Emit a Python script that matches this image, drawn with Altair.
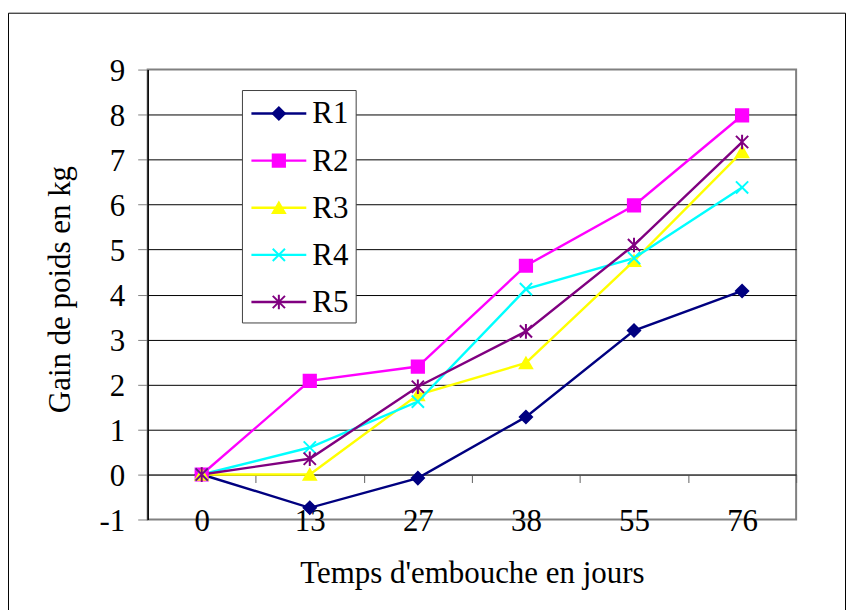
import altair as alt
import pandas as pd

# ---- data ----
days = ["0", "13", "27", "38", "55", "76"]
series = ["R1", "R2", "R3", "R4", "R5"]
r1 = [0, -0.74, -0.08, 1.28, 3.20, 4.08]
r2 = [0, 2.08, 2.40, 4.64, 5.98, 7.98]
r3 = [0, 0.00, 1.77, 2.48, 4.75, 7.17]
r4 = [0, 0.60, 1.62, 4.12, 4.81, 6.38]
r5 = [0, 0.35, 1.95, 3.18, 5.10, 7.39]
y_ticks = [-1, 0, 1, 2, 3, 4, 5, 6, 7, 8, 9]

colors = ["#000080", "#FF00FF", "#FFFF00", "#00FFFF", "#800080"]
shapes = ["diamond", "square", "triangle-up",
          "M-1,-1L1,1M-1,1L1,-1",
          "M-1,-1L1,1M-1,1L1,-1M0,-1.2L0,1.2"]

FONT = "Liberation Serif"
FS = 31

rows = []
for s, vals in zip(series, [r1, r2, r3, r4, r5]):
    for d, v in zip(days, vals):
        rows.append({"jour": d, "serie": s, "gain": v})
df = pd.DataFrame(rows)
leg_df = pd.DataFrame({"serie": series})

color_scale = alt.Scale(domain=series, range=colors)
shape_scale = alt.Scale(domain=series, range=shapes)

x_enc = alt.X(
    "jour:N", sort=days,
    scale=alt.Scale(type="band", paddingInner=0, paddingOuter=0),
    axis=alt.Axis(
        title="Temps d'embouche en jours", labelAngle=0, offset=-45.1,
        tickBand="extent", tickSize=8, tickColor="#606060", tickWidth=1,
        domainColor="#404040", domainWidth=1, grid=False,
        labelFont=FONT, labelFontSize=FS, labelColor="black",
        labelPadding=24, labelBaseline="top",
        titleFont=FONT, titleFontSize=FS, titleFontWeight="normal",
        titleColor="black", titleY=108, titleBaseline="alphabetic",
    ),
)
y_enc = alt.Y(
    "gain:Q",
    scale=alt.Scale(domain=[-1, 9], nice=False, zero=False),
    axis=alt.Axis(
        title="Gain de poids en kg", values=y_ticks,
        labelExpr="datum.value < 0 ? '-' + abs(datum.value) : '' + datum.value",
        tickSize=10, tickColor="#808080", tickWidth=1,
        domainColor="black", domainWidth=1.5,
        labelFont=FONT, labelFontSize=FS, labelColor="black",
        labelPadding=13, labelOffset=2,
        grid=True, gridColor="black", gridWidth=1,
        gridOpacity={"condition": {"test": "datum.value == 9 || datum.value == -1",
                                   "value": 0}, "value": 1},
        titleFont=FONT, titleFontSize=FS, titleFontWeight="normal",
        titleColor="black", titleX=-78, titleY=220, titleAngle=270,
        titleAlign="center", titleBaseline="alphabetic",
    ),
)

base = alt.Chart(df)
lines = base.mark_line(strokeWidth=2.4).encode(
    x=x_enc, y=y_enc,
    color=alt.Color("serie:N", scale=color_scale, legend=None),
)
points = base.mark_point(filled=True, size=150, strokeWidth=2, opacity=1).encode(
    x=x_enc, y=y_enc,
    color=alt.Color("serie:N", scale=color_scale, legend=None),
    stroke=alt.Stroke("serie:N", scale=color_scale, legend=None),
    shape=alt.Shape("serie:N", scale=shape_scale, legend=None),
)
main = alt.layer(lines, points)

# ---- legend box (Excel-style, inside the plot) ----
leg_y = alt.Y("serie:N", sort=series,
              scale=alt.Scale(type="point", domain=series, range=[44, 233], padding=0),
              axis=None)
box = alt.Chart(alt.Data(values=[{}])).mark_rect(
    fill="white", stroke="#404040", strokeWidth=1
).encode(x=alt.value(95), x2=alt.value(209), y=alt.value(21), y2=alt.value(254))
leg_lines = alt.Chart(leg_df).mark_rule(strokeWidth=2.4).encode(
    x=alt.value(104), x2=alt.value(159), y=leg_y,
    color=alt.Color("serie:N", scale=color_scale, legend=None),
)
leg_points = alt.Chart(leg_df).mark_point(filled=True, size=150, strokeWidth=2, opacity=1).encode(
    x=alt.value(131.5), y=leg_y,
    color=alt.Color("serie:N", scale=color_scale, legend=None),
    stroke=alt.Stroke("serie:N", scale=color_scale, legend=None),
    shape=alt.Shape("serie:N", scale=shape_scale, legend=None),
)
leg_text = alt.Chart(leg_df).mark_text(
    align="left", baseline="middle", font=FONT, fontSize=FS, color="black", dy=1
).encode(x=alt.value(165), y=leg_y, text="serie:N")
legend = alt.layer(box, leg_lines, leg_points, leg_text)

frame = alt.Chart(alt.Data(values=[{}])).mark_rect(
    filled=False, color="black", strokeWidth=1
).encode(x=alt.value(-139.5), x2=alt.value(699.5), y=alt.value(-56.5), y2=alt.value(580))

chart = alt.layer(
    frame, main, legend
).resolve_scale(y="independent").properties(
    width=650, height=451,
    autosize=alt.AutoSizeParams(type="none"),
    padding={"left": 140, "top": 61, "right": 51, "bottom": 90},
    background="white",
).configure_view(stroke="#808080", strokeWidth=2)

chart.save("out.html", embed_options={"renderer": "svg", "actions": False})
